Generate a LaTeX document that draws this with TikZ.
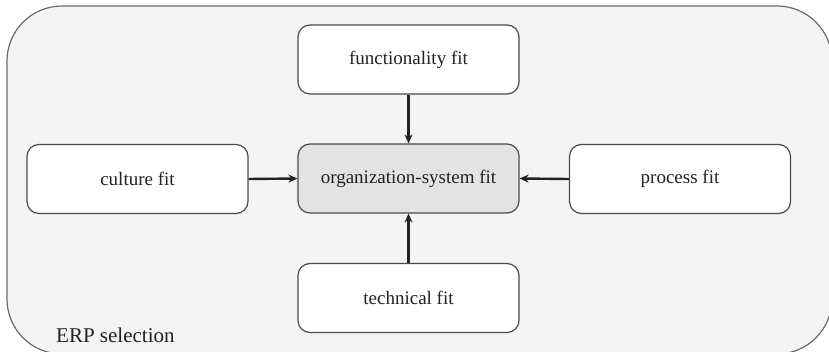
\documentclass[tikz,border=0pt]{standalone}
\usepackage{fontspec}
\setmainfont{Liberation Serif}
\newfontfamily\diagfont{Liberation Serif}
\usetikzlibrary{arrows.meta}
\definecolor{bgfill}{HTML}{F4F4F4}
\definecolor{centerfill}{HTML}{E3E3E3}
\definecolor{edgegray}{HTML}{4A4A4A}
\definecolor{outergray}{HTML}{6A6A6A}
\definecolor{txt}{HTML}{222222}
\tikzset{
  fitbox/.style={draw=edgegray, line width=1.2pt, fill=white, rounded corners=12pt,
    minimum width=221pt, minimum height=69pt, inner sep=0pt, text=txt,
    font=\diagfont\fontsize{19}{22}\selectfont},
  conn/.style={draw=txt, line width=2.4pt, -{Stealth[length=9pt,width=8pt]}}
}
\begin{document}
\begin{tikzpicture}[x=1pt,y=-1pt]
\useasboundingbox (0,0) rectangle (829,352);
\draw[draw=outergray, line width=1.2pt, fill=bgfill, rounded corners=55pt] (7,6) rectangle (832,354);
\node[fitbox] (func) at (408.5,59.5) {functionality fit};
\node[fitbox, fill=centerfill] (org) at (408.5,178.5) {organization-system fit};
\node[fitbox] (cult) at (137.5,179) {culture fit};
\node[fitbox] (proc) at (680,179) {process fit};
\node[fitbox] (tech) at (408.5,298) {technical fit};
\node[anchor=base west, text=txt, inner sep=0pt, font=\diagfont\fontsize{21}{24}\selectfont] (erp) at (56,342) {ERP selection};
\draw[conn] (func.south) -- (org.north);
\draw[conn] (tech.north) -- (org.south);
\draw[conn] (cult.east) -- (org.west);
\draw[conn] (proc.west) -- (org.east);
\end{tikzpicture}
\end{document}
